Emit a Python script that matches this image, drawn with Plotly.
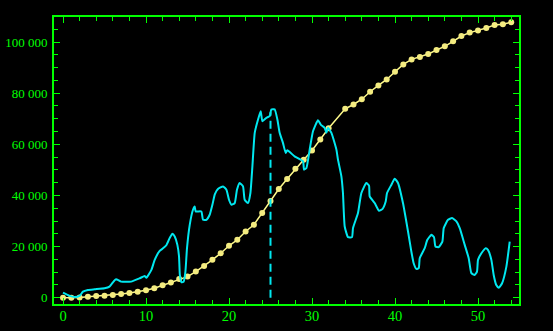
import plotly.graph_objects as go

# Cumulative series (yellow) – daily points (x=33 absent in reference)
cum_x = list(range(0, 33)) + list(range(34, 55))
cum_y = [0, 0, 100, 400, 650, 800, 1050, 1450, 1850, 2350,
         2900, 3700, 4850, 5900, 7300, 8250, 10200, 12400, 14800, 17400,
         20300, 22650, 25900, 28500, 33100, 37800, 42500, 46400, 50400, 54000,
         57600, 61850, 66300,
         73900, 75580, 77650, 80550, 83030, 85380, 88400, 91260, 93220, 94130,
         95300, 96870, 98320, 100280, 102360, 103700, 104480, 105520, 106700, 106950,
         107740]

# Rate series (cyan), traced
rate_x = [0.0, 0.8, 1.4, 2.0, 2.4, 3.0, 3.8, 5.0, 5.6, 6.15, 6.4, 7.0, 8.2, 9.25, 9.85,
          10.05, 10.65, 11.05, 11.65, 12.05, 12.45, 12.85, 13.18, 13.46, 13.78, 13.98,
          14.08, 14.28, 14.54, 14.75, 14.94, 15.27, 15.66, 15.87, 15.99, 16.67, 16.87,
          17.28, 17.67, 18.0, 18.3, 18.67, 19.28, 19.69, 20.0, 20.29, 20.69, 20.96,
          21.29, 21.69, 21.89, 22.29, 22.58, 22.82, 23.1, 23.5, 23.82, 24.02, 24.5,
          24.9, 25.1, 25.5, 25.83, 26.1, 26.5, 26.83, 27.03, 27.9, 28.92, 29.04, 29.33,
          29.72, 30.12, 30.72, 31.05, 31.53, 31.73, 31.93, 32.34, 32.94, 33.13, 33.54,
          33.73, 33.94, 34.34, 34.82, 34.94, 35.54, 35.95, 36.55, 36.87, 36.95, 37.55,
          38.07, 38.48, 38.88, 39.04, 39.57, 39.96, 40.36, 40.96, 41.57, 41.97, 42.25,
          42.58, 42.86, 42.98, 43.58, 43.9, 44.38, 44.7, 44.87, 45.27, 45.71, 45.87,
          46.39, 46.87, 47.4, 47.8, 48.4, 48.88, 49.2, 49.6, 49.88, 50.0, 50.41, 50.93,
          51.2, 51.61, 51.89, 52.2, 52.5, 52.9, 53.42, 53.82]
rate_y = [1960, 700, 300, 700, 2350, 3020, 3290, 3680, 4310, 6550, 7200, 6280, 6280, 7600, 8500,
          7800, 10860, 14790, 18300, 19300, 20500, 23300, 25000, 23920, 20670, 16080,
          8900, 6000, 6280, 10200, 19370, 28510, 34400, 35690, 33730, 33730, 30470,
          30470, 32430, 36360, 40500, 42500, 43530, 42240, 38320, 36360, 37020, 42240,
          44870, 43530, 38320, 37020, 40950, 51380, 64480, 69690, 72950, 69030, 70360,
          71000, 73620, 73700, 69690, 64480, 60560, 56630, 57650, 55300, 53340, 50080, 50750,
          57930, 65100, 69420, 67730, 66440, 64480, 66440, 64480, 57930, 54000, 47460,
          40950, 27850, 23690, 23690, 27220, 33100, 40950, 44870, 43810, 39610, 37020,
          34000, 34670, 37650, 40950, 44200, 46550, 44870, 37020, 25880, 18040, 13490,
          11260, 11530, 15450, 19370, 22630, 24590, 23690, 20000, 19770, 21960, 27220,
          30470, 31140, 29810, 27220, 20670, 15450, 9570, 8900, 10200, 14790, 17410, 19370,
          18710, 14790, 8900, 4980, 3920, 5650, 12160, 21960]

# Vertical marker line
mark_x = [25, 25]
mark_y = [0, 72500]

x_ticks = [0, 10, 20, 30, 40, 50]
y_ticks = [0, 20000, 40000, 60000, 80000, 100000]
y_tick_text = ["0", "20 000", "40 000", "60 000", "80 000", "100 000"]

GREEN = "#00ff00"
CYAN = "#00e8f0"

fig = go.Figure()
fig.add_trace(go.Scatter(
    x=cum_x, y=cum_y, mode="lines+markers",
    line=dict(color="#fffb8c", width=1.5),
    marker=dict(color="#f4ec80", size=6),
    showlegend=False))
fig.add_trace(go.Scatter(
    x=mark_x, y=mark_y, mode="lines",
    line=dict(color=CYAN, width=2, dash="8px,5px"),
    showlegend=False))
fig.add_trace(go.Scatter(
    x=rate_x, y=rate_y, mode="lines",
    line=dict(color=CYAN, width=2, shape="spline", smoothing=0.45),
    showlegend=False))

axis_common = dict(
    showline=True, linecolor=GREEN, linewidth=2, mirror="allticks",
    ticks="inside", tickcolor=GREEN, ticklen=6, tickwidth=1.2,
    showgrid=False, zeroline=False, automargin=False,
)

fig.update_xaxes(
    range=[-1.084, 54.94], tickvals=x_ticks,
    minor=dict(dtick=2, tick0=0, ticks="inside", ticklen=4, tickcolor=GREEN, tickwidth=1, showgrid=False),
    ticklabelstandoff=-2,
    tickfont=dict(family="Liberation Serif", size=14.5, color=GREEN),
    **axis_common)
fig.update_yaxes(
    range=[-2470, 109800], tickvals=y_ticks, ticktext=y_tick_text,
    minor=dict(dtick=5000, tick0=0, ticks="inside", ticklen=4, tickcolor=GREEN, tickwidth=1, showgrid=False),
    ticklabelstandoff=2,
    tickfont=dict(family="Liberation Serif", size=13, color=GREEN),
    **axis_common)

fig.update_layout(
    width=553, height=331,
    margin=dict(l=54, r=34, t=17, b=27),
    paper_bgcolor="black", plot_bgcolor="black",
)

fig.write_html("out.html")
